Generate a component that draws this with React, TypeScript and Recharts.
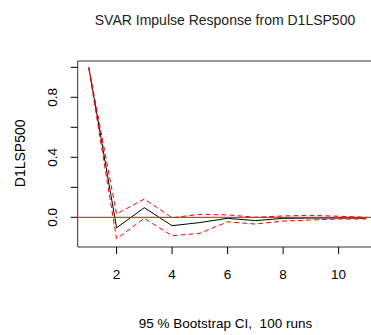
import {
  ComposedChart,
  Line,
  XAxis,
  YAxis,
  ReferenceLine,
  ReferenceArea,
} from 'recharts'

const steps = [1, 2, 3, 4, 5, 6, 7, 8, 9, 10, 11]
const response = [1.0, -0.07, 0.064, -0.056, -0.035, -0.007, -0.022, -0.007, -0.005, -0.005, -0.006]
const upper = [1.0, 0.022, 0.122, -0.003, 0.02, 0.016, 0.0, 0.009, 0.013, 0.007, 0.0]
const lower = [0.99, -0.143, -0.007, -0.123, -0.107, -0.03, -0.045, -0.025, -0.018, -0.011, -0.011]

const xTicks = [2, 4, 6, 8, 10]
const yTicks = [0, 0.2, 0.4, 0.6, 0.8, 1.0]
const yLabelled = [0, 0.4, 0.8]

const data = steps.map((s, i) => ({
  step: s,
  response: response[i],
  upper: upper[i],
  lower: lower[i],
}))

const FONT = '"Liberation Sans", Arial, sans-serif'
const X_DOMAIN: [number, number] = [0.6, 11.4]
const Y_DOMAIN: [number, number] = [-0.198, 1.042]

function XTick(props: any) {
  const { x, y, payload } = props
  return (
    <text x={x} y={y + 25} textAnchor="middle" fontSize={13.5} fontFamily={FONT} fill="#000">
      {payload.value}
    </text>
  )
}

function YTick(props: any) {
  const { x, y, payload } = props
  const v = payload.value
  if (!yLabelled.some((t) => Math.abs(t - v) < 1e-9)) return null
  const tx = x - 13.5
  return (
    <text
      x={tx}
      y={y}
      textAnchor="middle"
      fontSize={13.5}
      fontFamily={FONT}
      fill="#000"
      transform={`rotate(-90, ${tx}, ${y})`}
    >
      {v.toFixed(1)}
    </text>
  )
}

export default function App() {
  return (
    <div
      style={{
        position: 'absolute',
        left: 0,
        top: 0,
        width: 371,
        height: 335,
        overflow: 'hidden',
        background: '#fff',
      }}
    >
      <ComposedChart
        width={380}
        height={335}
        data={data}
        margin={{ top: 61, right: 2.5, bottom: 58, left: 0 }}
      >
        <XAxis
          dataKey="step"
          type="number"
          domain={X_DOMAIN}
          ticks={xTicks}
          axisLine={false}
          tickSize={7}
          tickMargin={0}
          tickLine={{ stroke: '#000' }}
          tick={XTick}
          height={30}
          allowDataOverflow
        />
        <YAxis
          type="number"
          domain={Y_DOMAIN}
          ticks={yTicks}
          axisLine={false}
          tickSize={7}
          tickMargin={0}
          tickLine={{ stroke: '#000' }}
          tick={YTick}
          width={77.7}
          allowDataOverflow
        />
        <ReferenceArea
          x1={X_DOMAIN[0]}
          x2={X_DOMAIN[1]}
          y1={Y_DOMAIN[0]}
          y2={Y_DOMAIN[1]}
          fill="none"
          stroke="#333"
          strokeWidth={1}
          ifOverflow="visible"
        />
        <Line
          dataKey="response"
          stroke="#000"
          strokeWidth={1}
          dot={false}
          isAnimationActive={false}
        />
        <Line
          dataKey="upper"
          stroke="#ff0000"
          strokeWidth={1}
          strokeDasharray="5 3"
          dot={false}
          isAnimationActive={false}
        />
        <Line
          dataKey="lower"
          stroke="#ff0000"
          strokeWidth={1}
          strokeDasharray="5 3"
          dot={false}
          isAnimationActive={false}
        />
        <ReferenceLine y={0} stroke="#ff0000" strokeWidth={1} />
      </ComposedChart>
      <svg
        width={371}
        height={335}
        style={{ position: 'absolute', left: 0, top: 0, pointerEvents: 'none' }}
      >
        <text x={225} y={25} textAnchor="middle" fontSize={14} fontFamily={FONT} fill="#222">
          SVAR Impulse Response from D1LSP500
        </text>
        <text
          x={225.5}
          y={327.5}
          textAnchor="middle"
          fontSize={13.5}
          fontFamily={FONT}
          fill="#000"
          style={{ whiteSpace: 'pre' }}
        >
          {'95 % Bootstrap CI,  100 runs'}
        </text>
        <text
          x={25}
          y={153.3}
          textAnchor="middle"
          fontSize={14}
          fontFamily={FONT}
          fill="#000"
          transform="rotate(-90, 25, 153.3)"
        >
          D1LSP500
        </text>
      </svg>
    </div>
  )
}
